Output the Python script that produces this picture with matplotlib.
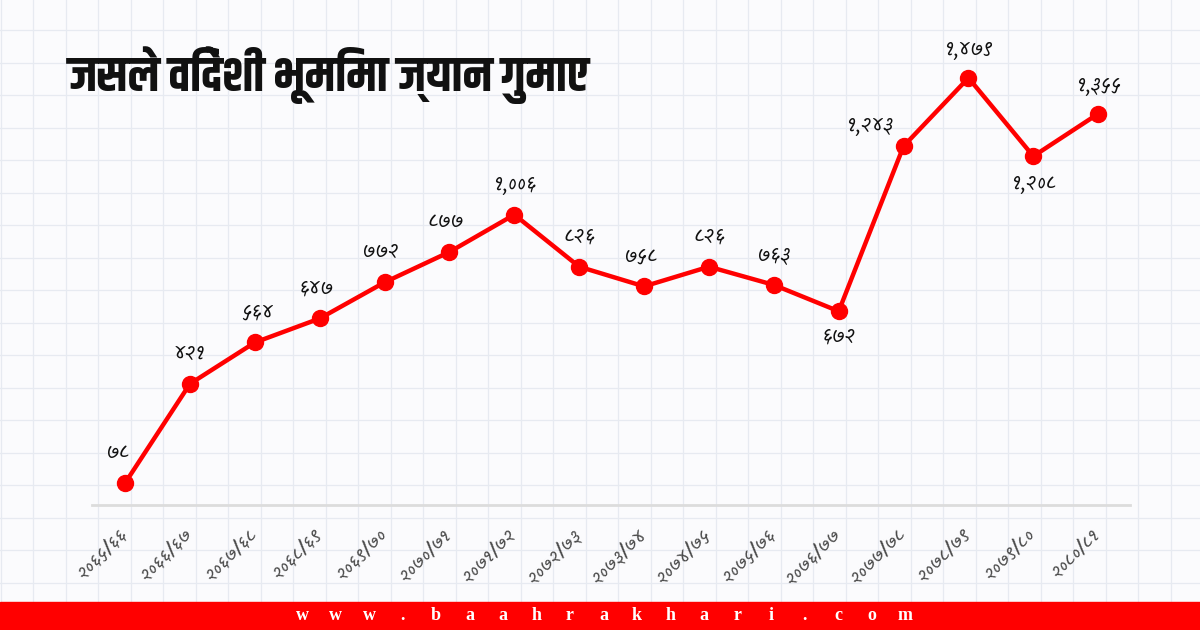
import matplotlib
matplotlib.use("Agg")
import matplotlib.pyplot as plt
import matplotlib.transforms as mtransforms
from matplotlib import font_manager

# data
years = ['२०६५/६६', '२०६६/६७', '२०६७/६८', '२०६८/६९', '२०६९/७०', '२०७०/७१',
         '२०७१/७२', '२०७२/७३', '२०७३/७४', '२०७४/७५', '२०७५/७६', '२०७६/७७',
         '२०७७/७८', '२०७८/७९', '२०७९/८०', '२०८०/८१']
deaths = [78, 421, 564, 647, 772, 877, 1006, 826, 758, 826, 763, 672,
          1243, 1479, 1208, 1355]
title = 'जसले विदेशी भूमिमा ज्यान गुमाए'
site = 'www.baahrakhari.com'

installed = {f.name for f in font_manager.fontManager.ttflist}


def pick(*names):
    for n in names:
        if n in installed:
            return n
    return 'FreeSans'


title_font = pick('Khand', 'Teko', 'Rajdhani', 'Hind', 'Mukta')
hand_font = pick('Kalam', 'Sarala', 'Hind', 'Mukta')
plt.rcParams['font.family'] = [hand_font, 'DejaVu Sans']

dev_digits = str.maketrans('0123456789', '०१२३४५६७८९')


def to_dev(n):
    return '{:,}'.format(n).translate(dev_digits)


fig = plt.figure(figsize=(12, 6.3), dpi=100)
fig.patch.set_facecolor('#fbfbfd')

# graph paper background + red footer band
bg = fig.add_axes([0, 0, 1, 1], zorder=0)
bg.set_xlim(0, 1200)
bg.set_ylim(630, 0)
bg.axis('off')
gx = 0.8
while gx < 1200:
    bg.axvline(gx, color='#e7eaf1', lw=0.9)
    gx += 32.5
gy = -2.3
while gy < 630:
    bg.axhline(gy, color='#e7eaf1', lw=0.9)
    gy += 32.5
bg.add_patch(plt.Rectangle((0, 602), 1200, 28, color='#ff0000', zorder=3))
for i, ch in enumerate(site):
    bg.text(302 + i * 33.5, 616, ch, color='white', ha='center', va='center',
            fontsize=13, fontweight='bold', family='Liberation Serif', zorder=4)
bg.text(68, 75, title, fontsize=35, fontweight='bold', color='#111111',
        ha='left', va='center', family=[title_font, 'DejaVu Sans'])

ax = fig.add_axes([92 / 1200, 1 - 505 / 630, 1038 / 1200, 465 / 630], zorder=2)
ax.patch.set_alpha(0)
x = list(range(len(years)))
ax.plot(x, deaths, color='#ff0000', lw=3.2, marker='o', markersize=11.5,
        solid_joinstyle='round', zorder=3)

# label offsets in pixels (dx, dy)
offsets = [(-8, 30), (0, 30), (2, 30), (-4, 30), (-4, 30), (-4, 30),
           (0, 30), (0, 30), (-4, 30), (0, 30), (0, 30), (0, -25),
           (-34, 20), (0, 28), (0, -28), (0, 28)]
for xi, v, (dx, dy) in zip(x, deaths, offsets):
    ax.annotate(to_dev(v), (xi, v), xytext=(dx * 0.72, dy * 0.72),
                textcoords='offset points', ha='center', va='center',
                fontsize=15, color='#111111')

ax.set_xlim(-0.51, 15.49)
ax.set_ylim(2, 1610)
ax.set_xticks(x)
ax.set_xticklabels(years, rotation=45, ha='right', va='top',
                   rotation_mode='anchor', fontsize=14, color='#4a4a4a')
ax.tick_params(axis='x', length=0, pad=10)
shift = mtransforms.ScaledTranslation(-0.07, -0.06, fig.dpi_scale_trans)
for lab in ax.get_xticklabels():
    lab.set_transform(lab.get_transform() + shift)
ax.set_yticks([])
for s in ['top', 'right', 'left']:
    ax.spines[s].set_visible(False)
ax.spines['bottom'].set_color('#dcdcdc')
ax.spines['bottom'].set_linewidth(2)

fig.savefig('out.png', dpi=100, facecolor=fig.get_facecolor())
